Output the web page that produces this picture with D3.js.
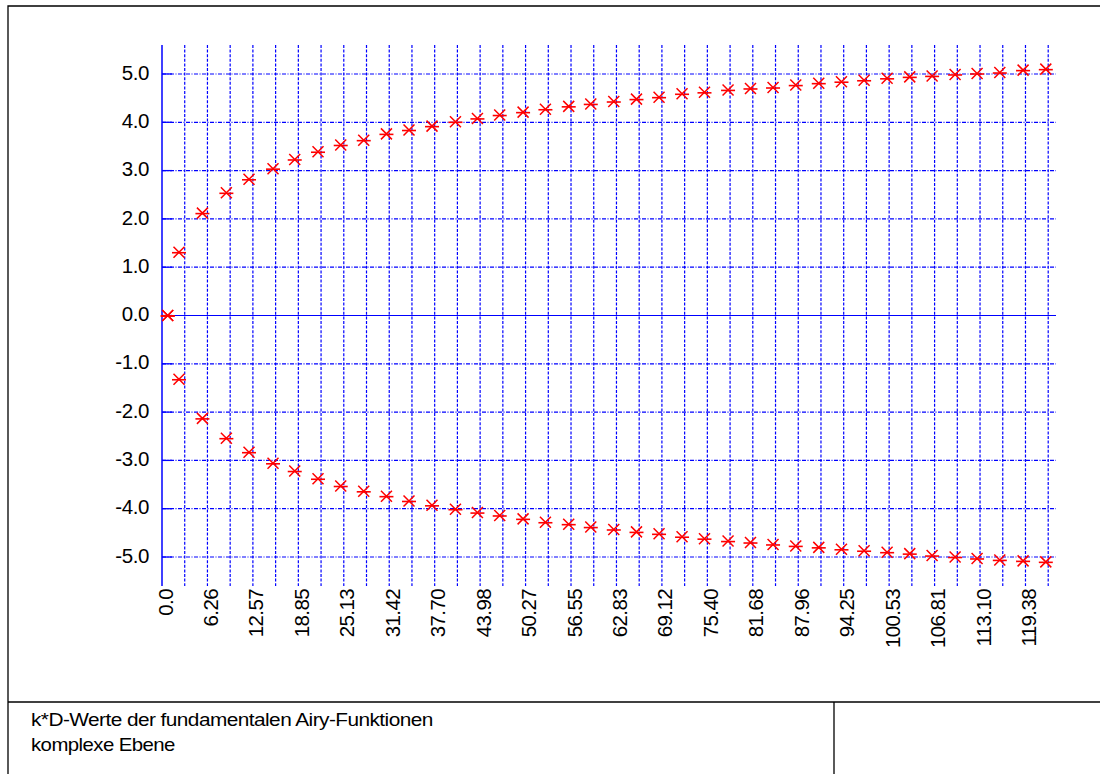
<!DOCTYPE html>
<html>
<head>
<meta charset="utf-8">
<script src="https://cdn.jsdelivr.net/npm/d3@7"></script>
<style>
  html, body { margin: 0; padding: 0; background: #fff; }
  svg { display: block; }
  text { font-family: "Liberation Sans", Arial, sans-serif; fill: #000; }
</style>
</head>
<body>
<svg id="chart" width="1100" height="774"></svg>
<script>
// Abscissa of each computed point (same for both branches)
const xValues = [0.79, 2.35, 5.59, 8.90, 12.03, 15.35, 18.35, 21.57, 24.71, 27.89,
  31.03, 34.15, 37.33, 40.57, 43.61, 46.69, 49.92, 53.01, 56.23, 59.28,
  62.46, 65.60, 68.72, 71.90, 75.00, 78.26, 81.36, 84.48, 87.62, 90.80,
  93.94, 97.07, 100.25, 103.38, 106.47, 109.65, 112.69, 115.83, 119.05, 122.19];

// Upper branch (positive k*D values)
const upperValues = [0, 1.31, 2.12, 2.54, 2.82, 3.04, 3.23, 3.39, 3.53, 3.63,
  3.76, 3.84, 3.92, 4.01, 4.08, 4.15, 4.21, 4.27, 4.33, 4.38,
  4.43, 4.48, 4.52, 4.59, 4.62, 4.67, 4.70, 4.72, 4.77, 4.81,
  4.84, 4.87, 4.91, 4.94, 4.96, 4.99, 5.01, 5.03, 5.08, 5.10];

// Lower branch (negative k*D values)
const lowerValues = [0, -1.32, -2.13, -2.54, -2.83, -3.06, -3.22, -3.38, -3.53, -3.64,
  -3.74, -3.84, -3.93, -4.01, -4.08, -4.14, -4.21, -4.28, -4.32, -4.38,
  -4.43, -4.48, -4.52, -4.58, -4.62, -4.67, -4.70, -4.74, -4.77, -4.80,
  -4.84, -4.87, -4.90, -4.93, -4.97, -5.00, -5.03, -5.06, -5.08, -5.10];

// Grid: one vertical line every pi, a label every 2*pi
const gridSteps = d3.range(1, 40);
const xTickLabels = ["0.0", "6.26", "12.57", "18.85", "25.13", "31.42", "37.70", "43.98",
  "50.27", "56.55", "62.83", "69.12", "75.40", "81.68", "87.96", "94.25",
  "100.53", "106.81", "113.10", "119.38"];
const yTickValues = [5, 4, 3, 2, 1, 0, -1, -2, -3, -4, -5];

const titleLines = ["k*D-Werte der fundamentalen Airy-Funktionen", "komplexe Ebene"];

const svg = d3.select("#chart");
const blue = "#0000ff";
const red = "#ff0000";

const plot = { left: 162, right: 1056, top: 45, bottom: 586 };

const x = d3.scaleLinear().domain([0, 123.6]).range([plot.left, plot.right]);
const y = d3.scaleLinear().domain([-5.6, 5.6]).range([plot.bottom, plot.top]);

// Outer frame and caption box
const frame = svg.append("g").attr("stroke", "#000").attr("stroke-width", 1.3).attr("fill", "none");
frame.append("path").attr("d", "M8,780V6H1110");
frame.append("path").attr("d", "M8,702H1110");
frame.append("path").attr("d", "M834,702V780");

// Vertical grid lines
svg.append("g")
  .selectAll("line")
  .data(gridSteps)
  .join("line")
  .attr("x1", d => x(d * Math.PI)).attr("x2", d => x(d * Math.PI))
  .attr("y1", plot.top).attr("y2", plot.bottom)
  .attr("stroke", blue).attr("stroke-width", 1.2)
  .attr("stroke-dasharray", "3,1.6");

// Horizontal grid lines (dash-dot) with short solid ticks at the axis
const hGrid = svg.append("g");
hGrid.selectAll("line.grid")
  .data(yTickValues.filter(d => d !== 0))
  .join("line")
  .attr("class", "grid")
  .attr("x1", plot.left).attr("x2", plot.right)
  .attr("y1", d => y(d)).attr("y2", d => y(d))
  .attr("stroke", blue).attr("stroke-width", 1.2)
  .attr("stroke-dasharray", "4,1.5,1,1.5");
hGrid.selectAll("line.tick")
  .data(yTickValues)
  .join("line")
  .attr("class", "tick")
  .attr("x1", plot.left).attr("x2", plot.left + 10)
  .attr("y1", d => y(d)).attr("y2", d => y(d))
  .attr("stroke", blue).attr("stroke-width", 1.3);

// Zero line
svg.append("line")
  .attr("x1", plot.left).attr("x2", plot.right)
  .attr("y1", y(0)).attr("y2", y(0))
  .attr("stroke", blue).attr("stroke-width", 1.2);

// Y axis line
svg.append("line")
  .attr("x1", plot.left).attr("x2", plot.left)
  .attr("y1", plot.top).attr("y2", plot.bottom)
  .attr("stroke", blue).attr("stroke-width", 1.5);

// Y axis labels
const yAxis = d3.axisLeft(y)
  .tickValues(yTickValues)
  .tickFormat(d => d.toFixed(1))
  .tickSize(0)
  .tickPadding(13);
const gy = svg.append("g").attr("transform", `translate(${plot.left},0)`).call(yAxis);
gy.select(".domain").remove();
gy.selectAll("text")
  .attr("font-size", 20.5)
  .attr("font-family", "Liberation Sans, Arial, sans-serif")
  .attr("letter-spacing", -0.4)
  .attr("dy", "0.25em")
  .attr("fill", "#000");

// X axis labels, rotated
const xTickVals = xTickLabels.map((_, i) => 2 * i * Math.PI);
const xAxis = d3.axisBottom(x)
  .tickValues(xTickVals)
  .tickFormat((d, i) => xTickLabels[i])
  .tickSize(0);
const gx = svg.append("g").attr("transform", `translate(0,${plot.bottom})`).call(xAxis);
gx.select(".domain").remove();
gx.selectAll("text")
  .attr("font-size", 20.5)
  .attr("font-family", "Liberation Sans, Arial, sans-serif")
  .attr("letter-spacing", -0.6)
  .attr("fill", "#000")
  .attr("transform", "rotate(-90)")
  .attr("text-anchor", "end")
  .attr("x", -3)
  .attr("y", 10)
  .attr("dy", 0);

// Markers: a cross with a horizontal bar
function drawSeries(values) {
  const pts = values.map((v, i) => [xValues[i], v]);
  const g = svg.append("g");
  const m = g.selectAll("g")
    .data(pts)
    .join("g")
    .attr("transform", d => `translate(${x(d[0])},${y(d[1])})`);
  m.append("path")
    .attr("d", "M-5.5,-5.5L5.5,5.5M-5.5,5.5L5.5,-5.5")
    .attr("stroke", red).attr("stroke-width", 1.5).attr("fill", "none");
  m.append("path")
    .attr("d", "M-7,0.5H7")
    .attr("stroke", red).attr("stroke-width", 1.6).attr("fill", "none");
}
drawSeries(upperValues);
drawSeries(lowerValues);

// Caption
const cap = svg.append("g");
const capTargets = [{ w: 402, yb: 726 }, { w: 144, yb: 751 }];
titleLines.forEach((t, i) => {
  const el = cap.append("text")
    .attr("font-size", 18.5)
    .attr("letter-spacing", -0.5)
    .attr("x", 0).attr("y", 0)
    .text(t);
  const len = el.node().getComputedTextLength();
  const sx = capTargets[i].w / len;
  el.attr("transform", `translate(31,${capTargets[i].yb}) scale(${sx},1)`);
});
</script>
</body>
</html>
